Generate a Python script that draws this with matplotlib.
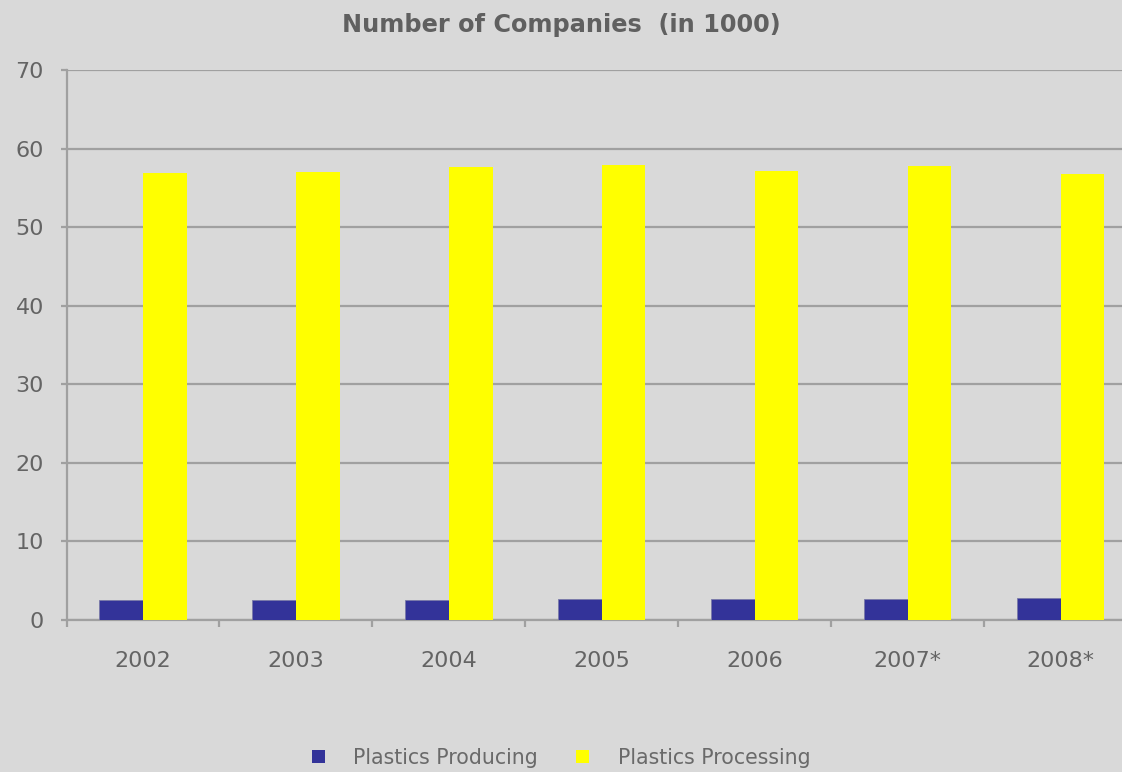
import matplotlib
matplotlib.use("Agg")
import matplotlib.pyplot as plt
import numpy as np
from matplotlib.patches import Patch

years = ["2002", "2003", "2004", "2005", "2006", "2007*", "2008*"]
producing = [2.6, 2.6, 2.5, 2.7, 2.7, 2.7, 2.8]
processing = [56.9, 57.0, 57.7, 57.9, 57.2, 57.8, 56.8]
series_names = ["Plastics Producing", "Plastics Processing"]

BG = "#D9D9D9"
GRID = "#A0A0A0"
TXT = "#606060"
BLUE = "#333399"
YELLOW = "#FFFF00"

plt.rcParams["font.family"] = ["DejaVu Sans"]

W, H = 1122, 772
fig = plt.figure(figsize=(W / 100, H / 100), dpi=100, facecolor=BG)
left, right = 66.5, 1137.0
bottom, top = 620.0, 70.0
ax = fig.add_axes([left / W, (H - bottom) / H, (right - left) / W, (bottom - top) / H])
ax.set_facecolor(BG)

x = np.arange(len(years))
bw = 1 / 3.5
ax.bar(x - bw / 2, producing, bw, color=BLUE, edgecolor="#7a7aa8", linewidth=0.6, zorder=3)
ax.bar(x + bw / 2, processing, bw, color=YELLOW, linewidth=0, zorder=3)

ax.set_xlim(-0.5, len(years) - 0.5)
ax.set_ylim(0, 70)
ax.set_yticks(range(0, 71, 10))
ax.yaxis.grid(True, color=GRID, linewidth=1.6, zorder=1)
ax.set_axisbelow(True)

ax.set_xticks(x)
ax.set_xticklabels(years)
ax.set_xticks(np.arange(-0.5, len(years), 1), minor=True)
ax.tick_params(axis="x", which="major", length=0, pad=22, labelsize=16, labelcolor="#646464")
ax.tick_params(axis="x", which="minor", length=5, width=1.6, color=GRID, direction="out")
ax.tick_params(axis="y", length=4.3, width=1.6, color=GRID, pad=12, labelsize=16, labelcolor="#646464")

for s in ["top", "right"]:
    ax.spines[s].set_visible(False)
for s in ["left", "bottom"]:
    ax.spines[s].set_color(GRID)
    ax.spines[s].set_linewidth(1.6)

fig.text(0.5, (H - 25) / H, "Number of Companies  (in 1000)", ha="center", va="center",
         fontsize=17.3, fontweight="bold", color=TXT)

handles = [Patch(facecolor=BLUE, edgecolor="none"), Patch(facecolor=YELLOW, edgecolor="none")]
fig.legend(handles, series_names, loc="center", bbox_to_anchor=(0.5, 14 / H), ncol=2,
           frameon=False, fontsize=14.8, labelcolor="#6A6A6A",
           handlelength=0.62, handleheight=0.62, handletextpad=1.4, columnspacing=1.85)

fig.savefig("out.png", dpi=100, facecolor=BG)
